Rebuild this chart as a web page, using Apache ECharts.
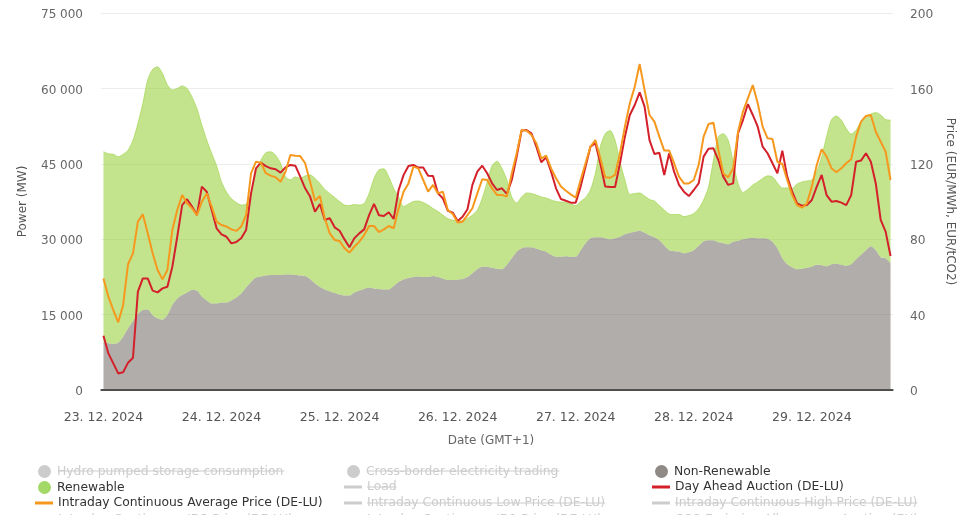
<!DOCTYPE html>
<html><head><meta charset="utf-8">
<style>html,body{margin:0;padding:0;background:#fff;overflow:hidden}#c{width:971px;height:515px}</style>
<script src="https://cdn.jsdelivr.net/npm/echarts@6/dist/echarts.min.js"></script>
</head><body><div id="c"></div>
<script>
const dayLabels = ['23. 12. 2024','24. 12. 2024','25. 12. 2024','26. 12. 2024','27. 12. 2024','28. 12. 2024','29. 12. 2024'];
const nonRenewable = [9600,9300,9200,9400,10600,12300,13700,15100,15900,16000,14900,14200,14000,14900,16900,18200,18900,19400,19900,19800,18600,17800,17200,17200,
17400,17400,17800,18400,19200,20400,21500,22400,22600,22800,22900,22900,22900,23000,23000,22900,22800,22700,22100,21200,20500,20000,19600,19300,
19000,18800,18800,19400,19800,20100,20400,20200,20100,20000,20000,20700,21500,22000,22300,22500,22600,22500,22500,22700,22500,22200,21900,21900,
22000,22100,22500,23200,24000,24500,24500,24300,24100,24000,24900,26200,27500,28200,28400,28400,28100,27800,27500,26900,26500,26500,26600,26500,
26500,27800,29200,30200,30400,30400,30200,30000,30200,30500,31000,31300,31500,31700,31300,30800,30400,29800,28800,27800,27600,27500,27200,27400,
27800,28700,29600,29800,29800,29400,29200,29000,29500,29700,30000,30200,30300,30200,30200,30100,29500,28200,26200,25000,24400,24000,24100,24300,
24500,24900,24800,24600,25000,25100,24900,24700,25000,26000,26900,27800,28600,27800,26400,26200,25200];
const renewable = [37800,37700,37700,37000,36300,35400,36000,37900,41100,45700,48900,50100,49000,45800,42800,41800,41600,40600,38400,36200,34100,31900,29900,27400,
24000,22000,20300,18900,17600,16600,17900,21000,23100,24400,24500,23800,22200,19400,18800,19500,19300,19900,20700,20900,20600,19900,19500,19000,
18500,18000,17900,17500,17000,17000,18700,21900,23700,24000,22400,19400,16900,14500,14700,15000,15000,14800,14300,13400,13000,12600,12200,11900,
11600,11600,11600,11600,11800,13600,16900,20300,21400,20100,16900,12200,9700,10200,10800,10700,10700,10600,10700,10900,11000,10900,10700,10500,
10200,9700,9100,9600,12700,18000,20800,21600,19500,14900,10800,7600,7600,7500,7300,7100,7200,6900,7000,7200,7300,7400,7300,7300,
7300,7400,8200,10600,15900,21000,21800,20700,15900,11400,9300,9700,10500,11200,11900,12500,12900,13000,14000,15200,15700,17000,17300,17300,
17300,18500,21600,25800,28800,29400,28800,27300,25900,25700,26500,26700,26300,27400,28300,27600,28500];
const dayAhead = [28.8,19.4,14.1,8.8,9.4,14.5,17.1,52.2,59.2,59.2,52.7,51.8,53.9,54.8,65.4,81.3,98.1,101.2,97.3,92.8,107.9,105.2,95.5,85.8,
82.6,81.3,77.8,78.5,80.5,84.9,104.3,117.6,120.6,118.8,117.6,117.1,115.3,118.1,119.4,119,113.2,107,102.6,94.6,98.7,90.2,91.1,86.3,
84.5,79.9,75.7,80.5,83.1,85.2,92.8,98.7,92.7,92.3,94.3,90.7,106.1,114,118.8,119.4,118,118,113.7,113.5,104.3,101.7,95.1,94.1,
89.7,91.9,95.9,108.8,115.8,119,115,109.6,106.1,107,104,111.4,123.8,137.6,137.9,136.2,129.1,120.8,123.4,115.8,107,101.3,100.4,99.4,
99.4,107.9,118.5,129.1,130.9,120.3,107.9,107.7,107.7,120.3,134.4,145.9,151.2,157.9,150.3,132.6,125.2,125.9,114.1,125.6,115.8,108.8,105.2,102.9,
106.1,109.6,123.8,128,128.2,122,113.2,108.8,109.6,136.2,143.2,151.7,145.9,139.7,129.1,125.6,120.3,114.9,127,113.2,105.2,99,97.8,98.1,
100.8,107.9,114.1,103.4,99.9,100.3,99.4,98.1,103.4,121.1,121.7,125.6,121.1,109.6,90.2,84,71.1];
const intradayAvg = [59.2,49.5,42.4,35.9,45.1,66.8,72.5,89.3,93.2,83.1,72.5,63.7,58.7,63.7,84.9,95.5,103.4,99,96.4,92.8,99.9,104.3,97.3,89.3,
87.5,86.7,85.2,84.4,86.7,92.8,114.9,121.1,120.6,115,113.7,112.8,110.5,115.8,124.7,124.3,124.1,120.3,110.5,100.4,102.9,91,83.1,79.6,
79,75.2,72.9,76,78.7,82.2,87,87,83.8,85.2,87,85.8,96.4,105.2,109.6,118.5,117.6,111.4,105.2,108.8,104.3,105.2,95.5,93.4,
88.9,89.3,92.8,96.4,104.3,111.8,111.4,107,103.5,103.5,102.6,114.9,125.6,137.9,137.6,135.3,130.9,122.9,124.3,117.6,112.3,107.9,105.7,103.8,
102,111.4,120.3,129.1,132.6,122.9,112.8,112.6,114.1,125.6,139.7,152.1,160.9,172.9,159.2,145.9,142.4,134.4,127,127,120.3,113.2,109.6,109.6,
111.4,119.4,134.4,141.1,141.8,127.3,114.9,112.8,117.6,137,147.7,154.7,161.8,152.1,139.7,133.5,133.2,121.1,119.9,111.4,103.4,98.1,96.7,99,
107.9,119.4,127.7,123.8,117.6,115.5,117.6,120.3,122.4,134.4,142.4,145.4,145.9,137,131.7,126.4,111.4];
const legendRows = [
  ['Hydro pumped storage consumption','Cross-border electricity trading','Non-Renewable'],
  ['Renewable','Load','Day Ahead Auction (DE-LU)'],
  ['Intraday Continuous Average Price (DE-LU)','Intraday Continuous Low Price (DE-LU)','Intraday Continuous High Price (DE-LU)'],
  ['Intraday Continuous ID3 Price (DE-LU)','Intraday Continuous ID1 Price (DE-LU)','CO2 Emission Allowances, Auction (EU)']
];
const circleNames = ['Hydro pumped storage consumption','Cross-border electricity trading','Non-Renewable','Renewable'];
const shownNames = ['Non-Renewable','Renewable','Day Ahead Auction (DE-LU)','Intraday Continuous Average Price (DE-LU)'];

const font = '"DejaVu Sans", sans-serif';
const categories = nonRenewable.map((_, i) => dayLabels[Math.floor(i / 24)]);
const colLeft = [35, 344, 652], rowMid = [471, 487, 503, 520];
const legendFont = 12.35;
const measure = document.createElement('canvas').getContext('2d');
measure.font = legendFont + 'px "DejaVu Sans"';
const legends = [], strikes = [], hiddenSeries = [];
legendRows.forEach((row, r) => row.forEach((name, c) => {
  const shown = shownNames.includes(name), circle = circleNames.includes(name);
  legends.push({
    data: [{ name, icon: circle ? 'circle' : 'rect' }],
    left: colLeft[c] + (circle ? 3 : 0), top: rowMid[r] - 6, padding: 0,
    itemWidth: circle ? 15 : 18, itemHeight: circle ? 13 : 3,
    selected: { [name]: shown }, inactiveColor: '#ccc', selectedMode: false,
    textStyle: { color: '#333', fontFamily: font, fontSize: legendFont }
  });
  if (!shown) {
    hiddenSeries.push({ name, type: 'line', data: [] });
    const x = colLeft[c] + 23;
    strikes.push({ type: 'line', silent: true,
      shape: { x1: x, y1: rowMid[r], x2: x + measure.measureText(name).width, y2: rowMid[r] },
      style: { stroke: '#ccc', lineWidth: 1 } });
  }
}));

const chart = echarts.init(document.getElementById('c'), null, { renderer: 'canvas' });
const tickRich = size => ({ t: { padding: [4, 0, 0, 0], color: '#666', fontFamily: font, fontSize: size } });
chart.setOption({
  animation: false,
  backgroundColor: '#fff',
  textStyle: { fontFamily: font },
  grid: { left: 101, right: 78, top: 13, bottom: 125 },
  legend: legends,
  graphic: strikes,
  xAxis: {
    type: 'category', data: categories, boundaryGap: true,
    name: 'Date (GMT+1)', nameLocation: 'middle', nameGap: 45,
    nameTextStyle: { color: '#666', fontFamily: font, fontSize: 12, padding: [0, 12, 0, 0] },
    axisLine: { show: true, onZero: false, lineStyle: { color: '#444', width: 1.5 } }, axisTick: { show: false },
    axisLabel: { interval: 23, color: '#555', fontFamily: font, fontSize: 12.5, margin: 21, hideOverlap: false },
    splitLine: { show: false }
  },
  yAxis: [{
    type: 'value', min: 0, max: 75000, interval: 15000,
    name: 'Power (MW)', nameLocation: 'middle', nameGap: 72, nameRotate: 90,
    nameTextStyle: { color: '#555', fontFamily: font, fontSize: 12 },
    axisLabel: { margin: 18, rich: tickRich(12),
      formatter: v => '{t|' + String(v).replace(/\B(?=(\d{3})+$)/g, ' ') + '}' },
    splitLine: { lineStyle: { color: '#ececec', width: 1 } }, axisLine: { show: false }, axisTick: { show: false }
  }, {
    type: 'value', min: 0, max: 200, interval: 40,
    name: 'Price (EUR/MWh, EUR/tCO2)', nameLocation: 'middle', nameGap: 50, nameRotate: -90,
    nameTextStyle: { color: '#555', fontFamily: font, fontSize: 12 },
    axisLabel: { margin: 17, rich: tickRich(12.2), formatter: v => '{t|' + v + '}' },
    splitLine: { show: false }, axisLine: { show: false }, axisTick: { show: false }
  }],
  series: [
    { name: 'Non-Renewable', type: 'line', stack: 'power', data: nonRenewable, symbol: 'none', z: 2, smooth: 0.25,
      itemStyle: { color: '#8f8a86' }, lineStyle: { width: 0 }, areaStyle: { color: 'rgba(125,118,113,0.6)', opacity: 1 },
      markLine: { silent: true, symbol: 'none', animation: false, label: { show: false }, emphasis: { disabled: true },
        lineStyle: { color: '#444', width: 1.5, type: 'solid' }, data: [{ yAxis: 0 }] } },
    { name: 'Renewable', type: 'line', stack: 'power', data: renewable, symbol: 'none', z: 2, smooth: 0.25,
      itemStyle: { color: '#a4d867' }, lineStyle: { width: 1, color: 'rgba(155,210,65,0.6)' }, areaStyle: { color: 'rgba(155,210,65,0.6)', opacity: 1 } },
    { name: 'Day Ahead Auction (DE-LU)', type: 'line', yAxisIndex: 1, data: dayAhead, symbol: 'none', z: 3,
      itemStyle: { color: '#d3202a' }, lineStyle: { width: 2, color: '#d3202a' } },
    { name: 'Intraday Continuous Average Price (DE-LU)', type: 'line', yAxisIndex: 1, data: intradayAvg, symbol: 'none', z: 4,
      itemStyle: { color: '#f6981e' }, lineStyle: { width: 2, color: '#f6981e' } },
    ...hiddenSeries
  ]
});
</script></body></html>
